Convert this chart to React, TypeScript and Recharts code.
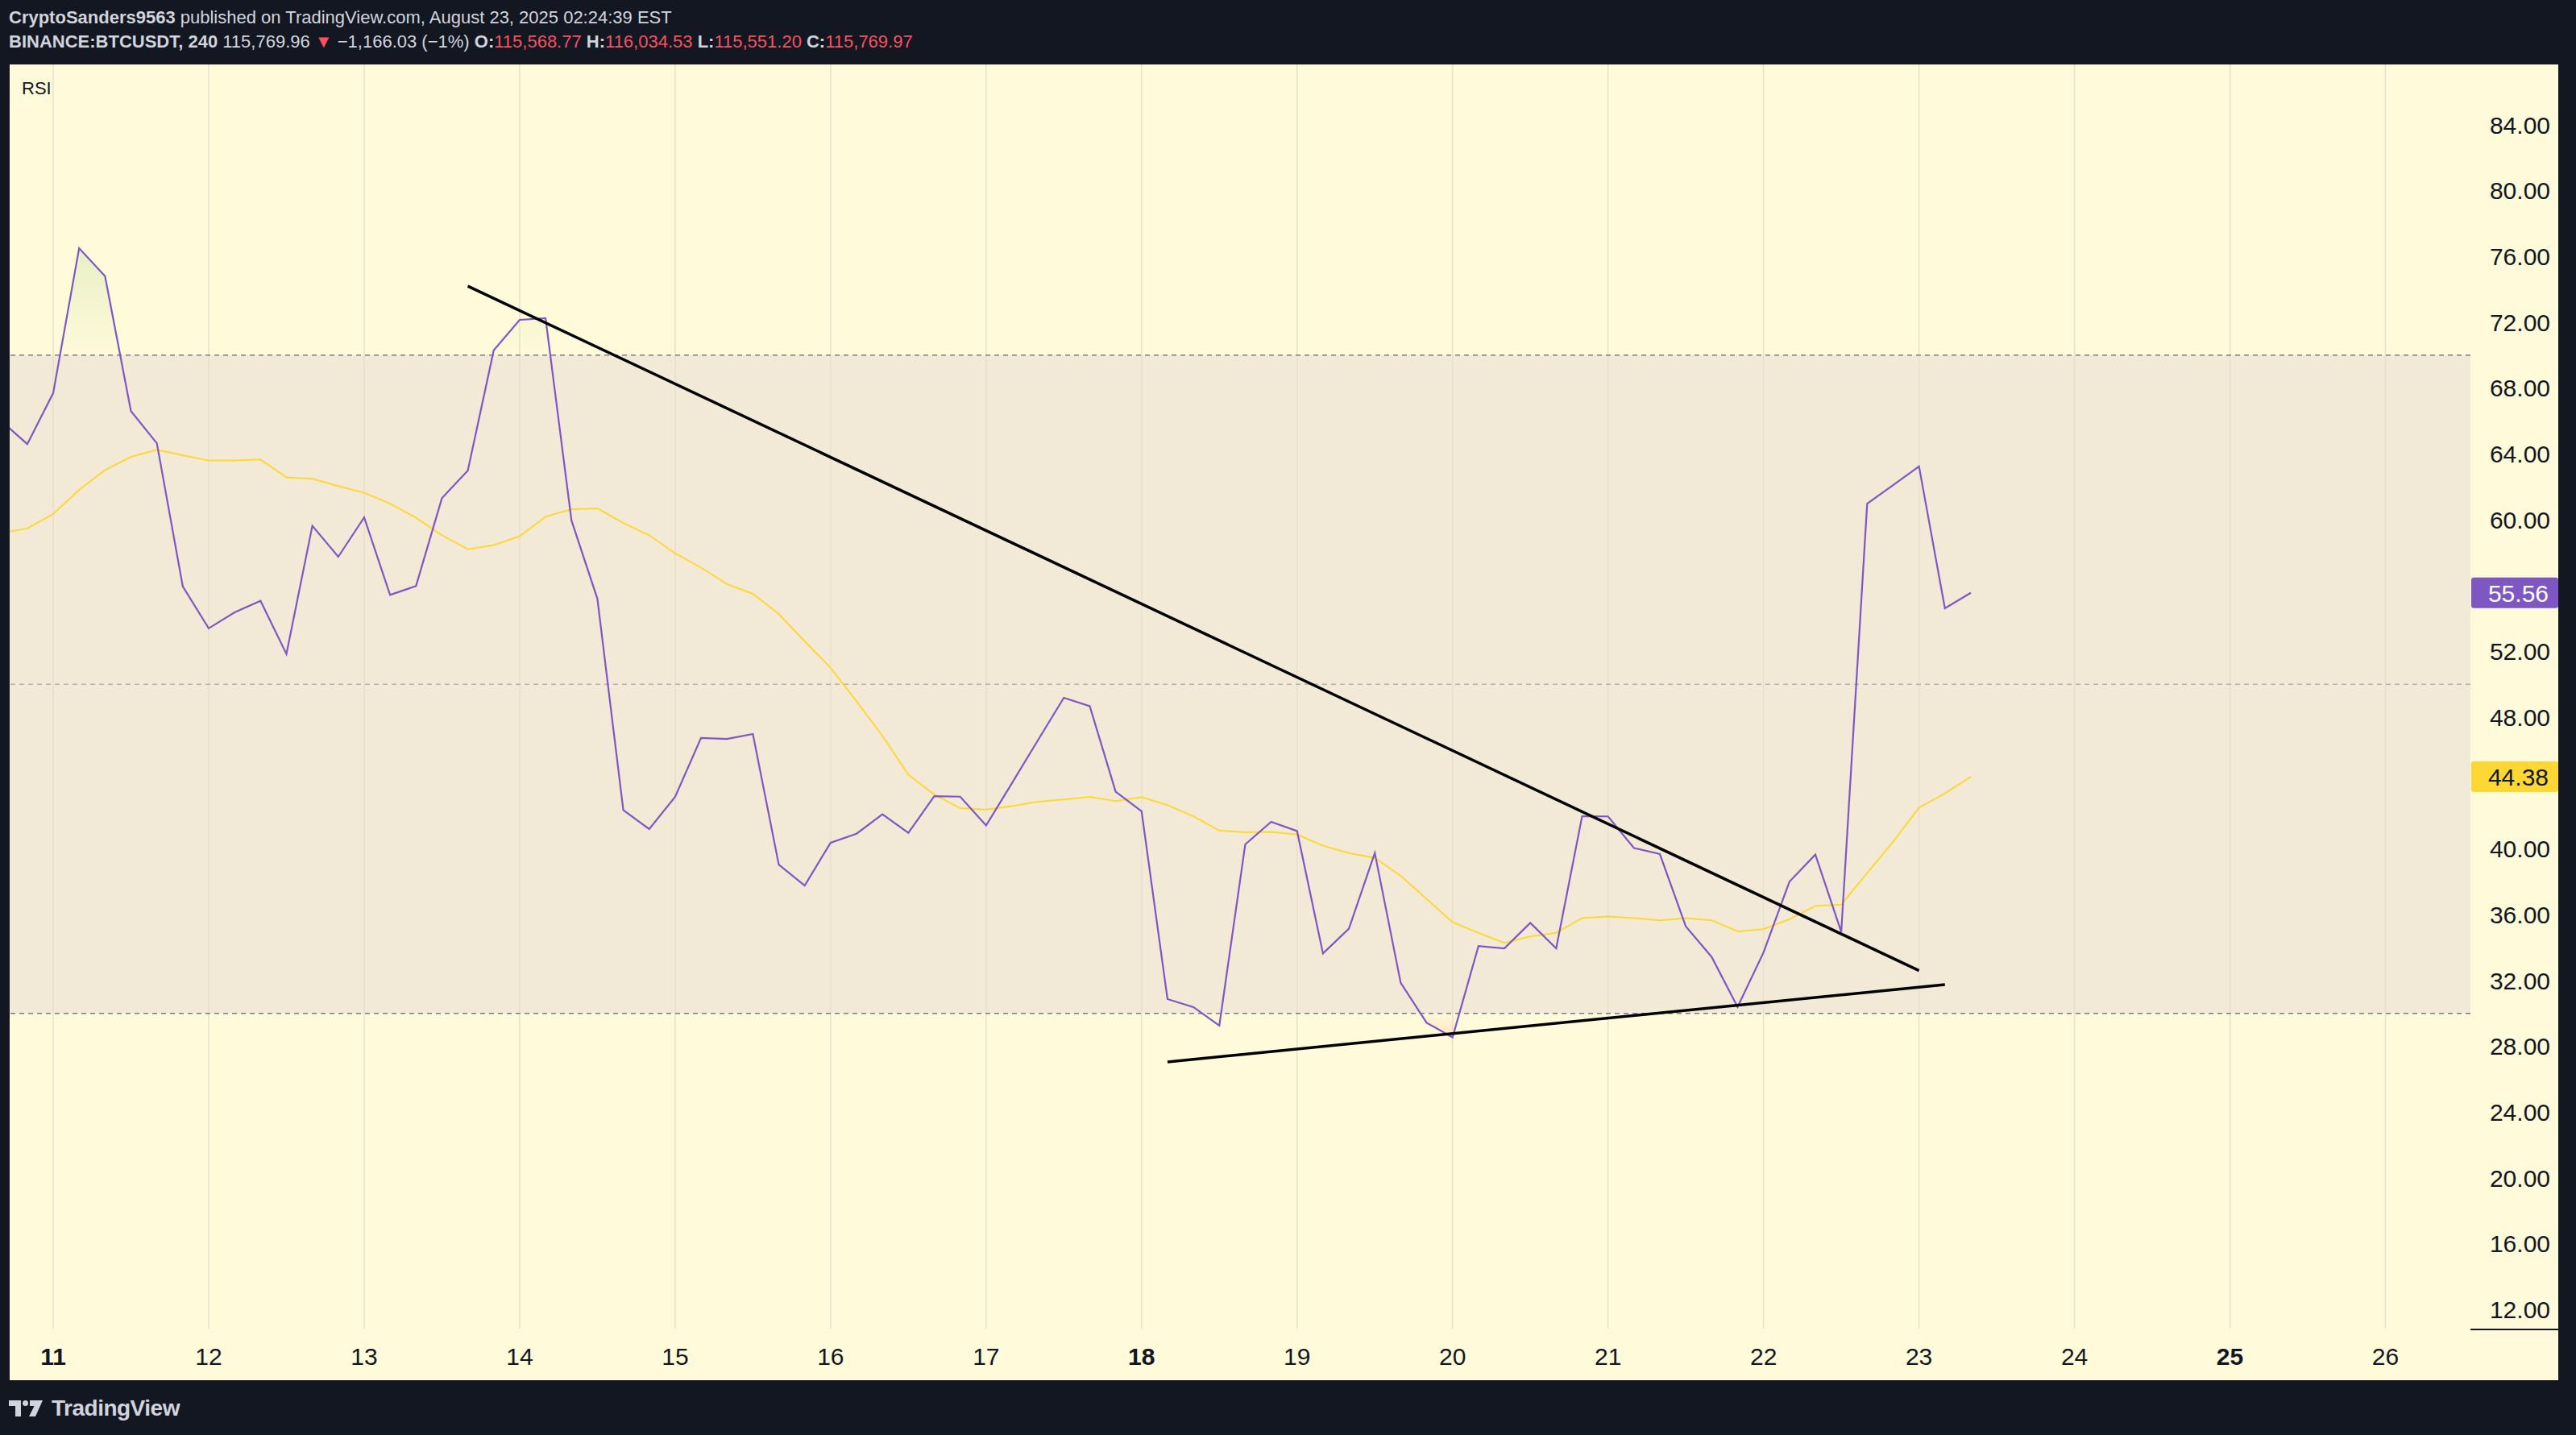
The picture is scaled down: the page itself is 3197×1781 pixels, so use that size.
import React from "react";
import {
  ComposedChart,
  Line,
  Area,
  XAxis,
  YAxis,
  ReferenceLine,
  ReferenceArea,
} from "recharts";

// ---- DATA ----
// 4h bars, bar index 0 = Aug 11 00:00 ; first bar is index -2
const FIRST_BAR = -2;

const RSI_VALUES = [
  66.0, 64.6, 67.7, 76.5, 74.8, 66.6, 64.65, 55.95, 53.4, 54.37, 55.07, 51.84, 59.63,
  57.75, 60.14, 55.43, 55.97, 61.31, 62.99, 70.3, 72.15, 72.25, 59.96, 55.2, 42.35,
  41.2, 43.16, 46.74, 46.68, 46.98, 39.04, 37.77, 40.37, 40.92, 42.1, 40.97, 43.2,
  43.17, 41.42, 44.0, 46.6, 49.18, 48.67, 43.47, 42.28, 30.87, 30.38, 29.26, 40.27,
  41.64, 41.08, 33.64, 35.15, 39.75, 31.85, 29.43, 28.54, 34.09, 33.95, 35.5, 33.95,
  41.98, 41.97, 40.05, 39.68, 35.29, 33.43, 30.39, 33.7, 38.0, 39.65, 34.95, 60.98,
  62.1, 63.24, 54.62, 55.56,
];

const RSI_MA_VALUES = [
  59.2, 59.47, 60.35, 61.82, 63.02, 63.82, 64.25, 63.92, 63.6, 63.6, 63.66, 62.57,
  62.49, 62.05, 61.64, 60.98, 60.12, 59.06, 58.21, 58.46, 59.0, 60.18, 60.64, 60.69,
  59.8, 59.06, 57.96, 57.09, 56.09, 55.5, 54.27, 52.61, 51.0, 48.97, 46.87, 44.5,
  43.3, 42.47, 42.39, 42.6, 42.86, 43.0, 43.16, 42.9, 43.14, 42.66, 41.98, 41.11,
  41.0, 41.03, 40.87, 40.19, 39.74, 39.45, 38.36, 36.95, 35.55, 34.89, 34.29, 34.67,
  34.89, 35.79, 35.89, 35.79, 35.66, 35.79, 35.66, 34.98, 35.12, 35.72, 36.53, 36.61,
  38.53, 40.44, 42.5, 43.37, 44.38,
];

const DAY_TICKS = [0, 6, 12, 18, 24, 30, 36, 42, 48, 54, 60, 66, 72, 78, 84, 90];
const DAY_LABELS = ["11", "12", "13", "14", "15", "16", "17", "18", "19", "20", "21", "22", "23", "24", "25", "26"];
const BOLD_DAYS = ["11", "18", "25"];

const PRICE_TICKS = [12, 16, 20, 24, 28, 32, 36, 40, 48, 52, 60, 64, 68, 72, 76, 80, 84];

const UPPER_BAND = 70;
const MIDDLE_BAND = 50;
const LOWER_BAND = 30;

const RESISTANCE_LINE = [
  { x: 16, y: 74.2 },
  { x: 72, y: 32.6 },
];
const SUPPORT_LINE = [
  { x: 43, y: 27.05 },
  { x: 73, y: 31.75 },
];

const X_DOMAIN = [-1.68, 93.28];
const Y_DOMAIN = [10.84, 87.67];

const rows = RSI_VALUES.map((v, i) => ({
  t: FIRST_BAR + i,
  rsi: v,
  ma: RSI_MA_VALUES[i],
}));

const lastRsi = RSI_VALUES[RSI_VALUES.length - 1];
const lastMa = RSI_MA_VALUES[RSI_MA_VALUES.length - 1];

const rsiMax = Math.max(...RSI_VALUES, UPPER_BAND);
const rsiMin = Math.min(...RSI_VALUES, LOWER_BAND);
const obOffset = (rsiMax - UPPER_BAND) / (rsiMax - rsiMin);
const osOffset = (rsiMax - LOWER_BAND) / (rsiMax - rsiMin);

// ---- STYLE ----
const FONT = '"Liberation Sans", Arial, sans-serif';
const DARK = "#131722";
const BG = "#fffad9";
const PURPLE = "#7e57c2";
const YELLOW = "#fdd835";
const RED = "#f7525f";

const CHART_W = 3163;
const CHART_H = 1633;

const DayTick = (props: any) => {
  const { x, y, payload } = props;
  const idx = DAY_TICKS.indexOf(payload.value);
  const label = DAY_LABELS[idx] ?? "";
  const bold = BOLD_DAYS.includes(label);
  return (
    <text
      x={x}
      y={y + 32}
      dy="0.36em"
      textAnchor="middle"
      fontFamily={FONT}
      fontSize={30}
      fontWeight={bold ? 700 : 400}
      fill={DARK}
    >
      {label}
    </text>
  );
};

const PriceTick = (props: any) => {
  const { x, y, payload } = props;
  return (
    <text
      x={x + 97}
      y={y}
      dy="0.36em"
      textAnchor="end"
      fontFamily={FONT}
      fontSize={30}
      fill={DARK}
    >
      {Number(payload.value).toFixed(2)}
    </text>
  );
};

const makeBadge = (value: number, bg: string, fg: string) => (props: any) => {
  const vb = props.viewBox || {};
  const right = (vb.x ?? 0) + (vb.width ?? 0);
  const cy = vb.y ?? 0;
  return (
    <g>
      <rect x={right + 1} y={cy - 19} width={108} height={38} rx={3} fill={bg} />
      <text
        x={right + 97}
        y={cy}
        dy="0.36em"
        textAnchor="end"
        fontFamily={FONT}
        fontSize={30}
        fill={fg}
      >
        {value.toFixed(2)}
      </text>
    </g>
  );
};

const Logo = () => (
  <svg width={42} height={20} viewBox="0 0 42 20" style={{ display: "block" }}>
    <path d="M0 0 H15 V20 H8 V7 H0 Z" fill="#d1d4dc" />
    <circle cx={20.5} cy={3.5} r={3.5} fill="#d1d4dc" />
    <path d="M26 0 H42 L33 20 H25 L31.5 7 H26 Z" fill="#d1d4dc" />
  </svg>
);

export default function App() {
  return (
    <div
      style={{
        position: "fixed",
        left: 0,
        top: 0,
        width: 3197,
        height: 1781,
        background: DARK,
        fontFamily: FONT,
        overflow: "hidden",
      }}
    >
      {/* header */}
      <div
        style={{
          position: "absolute",
          left: 11,
          top: 8,
          fontSize: 22,
          lineHeight: "28px",
          color: "#d1d4dc",
          whiteSpace: "nowrap",
        }}
      >
        <span style={{ fontWeight: 700 }}>CryptoSanders9563</span>
        <span> published on TradingView.com, August 23, 2025 02:24:39 EST</span>
      </div>
      <div
        style={{
          position: "absolute",
          left: 11,
          top: 38,
          fontSize: 22,
          lineHeight: "28px",
          color: "#d1d4dc",
          whiteSpace: "nowrap",
        }}
      >
        <span style={{ fontWeight: 700 }}>BINANCE:BTCUSDT, 240</span>
        <span> 115,769.96 </span>
        <span style={{ color: RED }}>▼</span>
        <span> −1,166.03 (−1%) </span>
        <span style={{ fontWeight: 700 }}>O:</span>
        <span style={{ color: RED }}>115,568.77 </span>
        <span style={{ fontWeight: 700 }}>H:</span>
        <span style={{ color: RED }}>116,034.53 </span>
        <span style={{ fontWeight: 700 }}>L:</span>
        <span style={{ color: RED }}>115,551.20 </span>
        <span style={{ fontWeight: 700 }}>C:</span>
        <span style={{ color: RED }}>115,769.97</span>
      </div>

      {/* chart pane */}
      <div
        style={{
          position: "absolute",
          left: 12,
          top: 80,
          width: CHART_W,
          height: CHART_H,
          background: BG,
        }}
      >
        <ComposedChart
          width={CHART_W}
          height={CHART_H}
          data={rows}
          margin={{ top: 0, right: 0, bottom: 0, left: 0 }}
        >
          <defs>
            <linearGradient id="rsiFill" x1="0" y1="0" x2="0" y2="1">
              <stop offset={0} stopColor="#4caf50" stopOpacity={0.22} />
              <stop offset={obOffset} stopColor="#4caf50" stopOpacity={0} />
              <stop offset={obOffset} stopColor="#ffffff" stopOpacity={0} />
              <stop offset={osOffset} stopColor="#f23645" stopOpacity={0} />
              <stop offset={1} stopColor="#f23645" stopOpacity={0.2} />
            </linearGradient>
          </defs>
          <ReferenceArea
            y1={LOWER_BAND}
            y2={UPPER_BAND}
            fill={PURPLE}
            fillOpacity={0.1}
            stroke="none"
            ifOverflow="visible"
          />
          {DAY_TICKS.map((d) => (
            <ReferenceLine key={"g" + d} x={d} stroke="#e6e1cb" strokeWidth={1.5} />
          ))}
          <XAxis
            dataKey="t"
            type="number"
            domain={X_DOMAIN}
            allowDataOverflow
            ticks={DAY_TICKS}
            interval={0}
            tick={<DayTick />}
            tickLine={false}
            tickSize={0}
            axisLine={false}
            height={64}
          />
          <YAxis
            orientation="right"
            type="number"
            domain={Y_DOMAIN}
            allowDataOverflow
            ticks={PRICE_TICKS}
            interval={0}
            tick={<PriceTick />}
            tickLine={false}
            tickSize={0}
            axisLine={false}
            width={109}
          />
          <ReferenceLine y={UPPER_BAND} stroke="#787b86" strokeDasharray="6 5" strokeWidth={1.5} />
          <ReferenceLine
            y={MIDDLE_BAND}
            stroke="#787b86"
            strokeOpacity={0.5}
            strokeDasharray="6 5"
            strokeWidth={1.5}
          />
          <ReferenceLine y={LOWER_BAND} stroke="#787b86" strokeDasharray="6 5" strokeWidth={1.5} />
          <Area
            dataKey="rsi"
            baseValue={MIDDLE_BAND}
            stroke="none"
            fill="url(#rsiFill)"
            isAnimationActive={false}
            dot={false}
            activeDot={false}
          />
          <Line
            dataKey="ma"
            stroke={YELLOW}
            strokeWidth={2}
            dot={false}
            activeDot={false}
            isAnimationActive={false}
          />
          <Line
            dataKey="rsi"
            stroke={PURPLE}
            strokeWidth={2.2}
            dot={false}
            activeDot={false}
            isAnimationActive={false}
          />
          <ReferenceLine segment={RESISTANCE_LINE} stroke="#000000" strokeWidth={3.5} />
          <ReferenceLine segment={SUPPORT_LINE} stroke="#000000" strokeWidth={3.5} />
          <ReferenceLine
            y={lastRsi}
            stroke="none"
            label={makeBadge(lastRsi, PURPLE, "#ffffff")}
          />
          <ReferenceLine
            y={lastMa}
            stroke="none"
            label={makeBadge(lastMa, YELLOW, DARK)}
          />
        </ComposedChart>

        {/* RSI title */}
        <div
          style={{
            position: "absolute",
            left: 15,
            top: 17,
            fontSize: 22,
            color: DARK,
          }}
        >
          RSI
        </div>
        {/* small axis line under the price scale */}
        <div
          style={{
            position: "absolute",
            left: 3054,
            top: 1569,
            width: 109,
            height: 2,
            background: DARK,
          }}
        />
      </div>

      {/* footer logo */}
      <div
        style={{
          position: "absolute",
          left: 11,
          top: 1736,
          display: "flex",
          alignItems: "center",
          gap: 11,
          color: "#d1d4dc",
          fontSize: 28,
          fontWeight: 700,
          letterSpacing: -0.5,
        }}
      >
        <Logo />
        <span style={{ lineHeight: "24px" }}>TradingView</span>
      </div>
    </div>
  );
}
